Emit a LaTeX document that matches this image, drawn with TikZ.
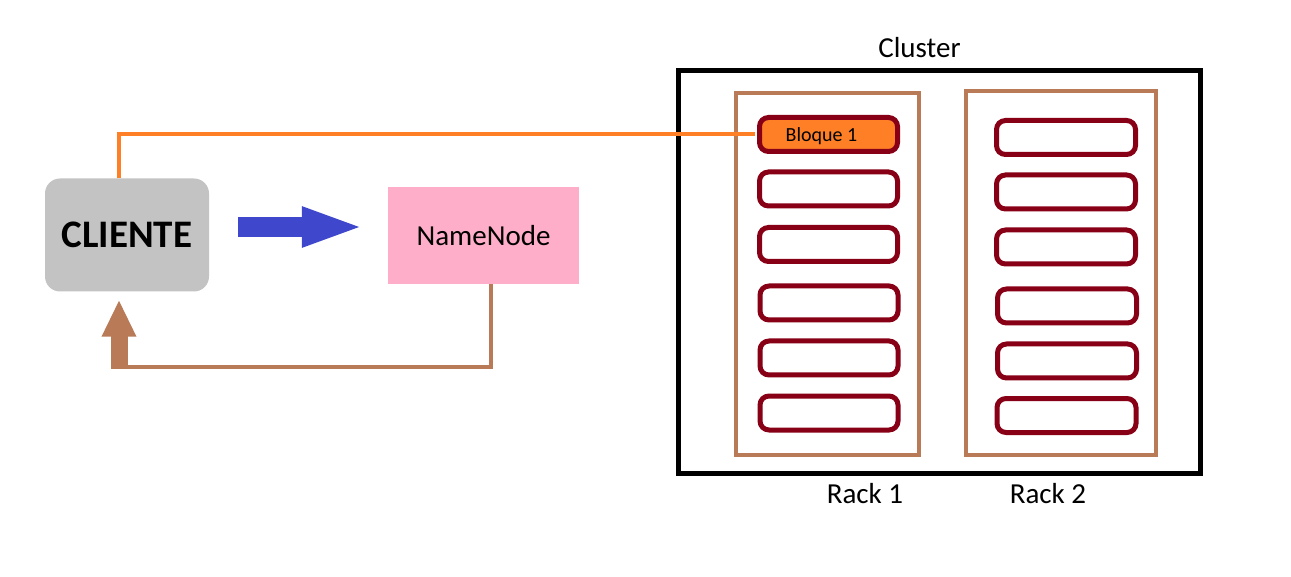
\documentclass[tikz,border=0pt]{standalone}
\usepackage{fontspec}
\setmainfont{Carlito}
\usepackage{xcolor}
\usepackage{tikz}
\usetikzlibrary{arrows.meta}

\definecolor{clientgray}{HTML}{C3C3C3}
\definecolor{pushblue}{HTML}{3F48CC}
\definecolor{namepink}{HTML}{FFAEC9}
\definecolor{readorange}{HTML}{FF7F27}
\definecolor{rackbrown}{HTML}{B97A57}
\definecolor{blockred}{HTML}{880015}

\begin{document}
\begin{tikzpicture}[x=1pt,y=-1pt]
% 1 = 1px
    \def\BLOCKW{138pt} %width of blocks
    \def\BLOCKH{34pt} %
    \def\BIGFONT{\fontsize{29}{34}\selectfont}

    \tikzset{
      clientbox/.style={fill=clientgray,rounded corners=15pt,
        minimum width=164pt,minimum height=113pt,
        font=\fontsize{39}{46}\selectfont\bfseries},
      namebox/.style={fill=namepink,minimum width=191pt,minimum height=97pt,
        font=\BIGFONT},
      clusterbox/.style={draw=black,line width=5pt,
        minimum width=522pt,minimum height=403pt},
      rackbox/.style={draw=rackbrown,line width=4pt},
      datablock/.style={draw=blockred,line width=5pt,rounded corners=9pt,
        minimum width=\BLOCKW,minimum height=\BLOCKH,text depth=0pt,
        font=\fontsize{20}{24}\selectfont},
      textlabel/.style={font=\BIGFONT,inner sep=0pt},
    }

    \useasboundingbox (0,0) rectangle (1291,577);

    % CLIENT AND NAMENODE
    \node[clientbox] (cliente) at (127,235) {CLIENTE};
    \node[namebox] (namenode) at (483.5,235.5) {NameNode};

    % CLUSTER
    \node[clusterbox] (cluster) at (939.5,272) {};
    \node[textlabel] (clustertitle) at (919.5,48) {Cluster};

    % RACKS
    \node[rackbox,minimum width=183pt,minimum height=361.5pt]
        (rack1) at (827.5,273.75) {};
    \node[rackbox,minimum width=190pt,minimum height=364pt]
        (rack2) at (1060.5,273) {};
    \node[textlabel] (rack1label) at (865,494) {Rack 1};
    \node[textlabel] (rack2label) at (1048,494) {Rack 2};

    % BLOCKS OF FIRST RACK
    \node[datablock,fill=readorange] (b11) at (828.5,134.5) {Bloque 1\hspace*{14pt}};
    \node[datablock] (b12) at (828.5,189) {};
    \node[datablock] (b13) at (828.5,244.5) {};
    \node[datablock] (b14) at (829,303) {};
    \node[datablock] (b15) at (829,358) {};
    \node[datablock] (b16) at (829,413) {};

    % BLOCKS OF SECOND RACK
    \node[datablock,minimum width=139pt] (b21) at (1066,137.5) {};
    \node[datablock,minimum width=139pt] (b22) at (1066,192) {};
    \node[datablock,minimum width=139pt] (b23) at (1066,247) {};
    \node[datablock,minimum width=139pt] (b24) at (1067,306) {};
    \node[datablock,minimum width=139pt] (b25) at (1067,361) {};
    \node[datablock,minimum width=139pt] (b26) at (1066.5,415.5) {};

    % READ LINE TO FIRST BLOCK
    \draw[readorange,line width=4pt,shorten >=2.5pt]
        ([xshift=-8pt]cliente.north) |- (b11.west);

    % REQUEST ARROW
    \draw[-{Triangle[width=36pt,length=63pt]},line width=20pt,pushblue,
            shorten <=29pt,shorten >=23pt]
        ([yshift=8pt]cliente.east) -- ([yshift=8pt]cliente.east -| namenode.west);

    % ANSWER LINE AND ARROW
    \coordinate (ret) at (119,367);
    \draw[rackbrown,line width=4pt] ([xshift=7.5pt]namenode.south) |- (ret);
    \draw[-{Triangle[width=32pt,length=37pt]},line width=17pt,rackbrown,
            shorten >=8pt]
        ([yshift=-2pt]ret) -- ([xshift=-8pt]cliente.south);

\end{tikzpicture}
\end{document}
